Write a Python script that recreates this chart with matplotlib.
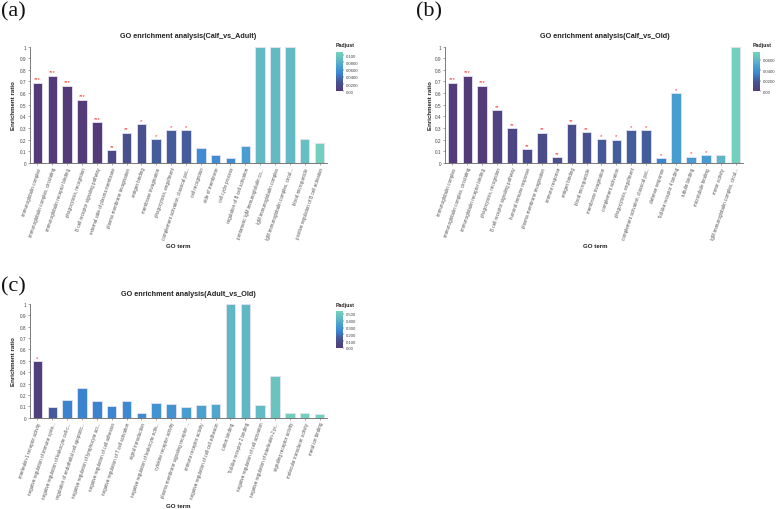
import numpy as np
import matplotlib
matplotlib.use("Agg")
import matplotlib.pyplot as plt
from matplotlib.colors import LinearSegmentedColormap, Normalize
from matplotlib.colorbar import ColorbarBase

plt.rcParams['font.family'] = ['Liberation Sans', 'DejaVu Sans']

# ---- data ----
terms_a = ["immunoglobulin complex", "immunoglobulin complex, circulating",
           "immunoglobulin receptor binding", "phagocytosis, recognition",
           "B cell receptor signaling pathway", "external side of plasma membrane",
           "plasma membrane invagination", "antigen binding", "membrane invagination",
           "phagocytosis, engulfment", "complement activation, classical pat...",
           "cell recognition", "side of membrane", "cell cycle process",
           "regulation of B cell activation", "pentameric IgM immunoglobulin co...",
           "IgM immunoglobulin complex", "IgM immunoglobulin complex, circul...",
           "blood microparticle", "positive regulation of B cell activation"]
ratio_a = [0.69, 0.75, 0.665, 0.545, 0.35, 0.11, 0.26, 0.335, 0.205, 0.28, 0.28,
           0.13, 0.07, 0.045, 0.145, 1.0, 1.0, 1.0, 0.21, 0.17]
padj_a = [0.0001, 0.0001, 0.0002, 0.0005, 0.001, 0.014, 0.02, 0.022, 0.03, 0.03, 0.03,
          0.055, 0.055, 0.055, 0.068, 0.088, 0.088, 0.088, 0.092, 0.106]
stars_a = ["***", "***", "***", "***", "***", "**", "**", "*", "*", "*", "*",
           "", "", "", "", "", "", "", "", ""]

terms_b = ["immunoglobulin complex", "immunoglobulin complex, circulating",
           "immunoglobulin receptor binding", "phagocytosis, recognition",
           "B cell receptor signaling pathway", "humoral immune response",
           "plasma membrane invagination", "immune response", "antigen binding",
           "blood microparticle", "membrane invagination", "complement activation",
           "phagocytosis, engulfment", "complement activation, classical pat...",
           "defense response", "Toll-like receptor 4 binding", "tubulin binding",
           "microtubule binding", "motor activity", "IgM immunoglobulin complex, circul..."]
ratio_b = [0.69, 0.75, 0.665, 0.455, 0.30, 0.12, 0.26, 0.05, 0.335, 0.265, 0.205,
           0.20, 0.28, 0.28, 0.045, 0.60, 0.055, 0.065, 0.07, 1.0]
padj_b = [0.0001, 0.0001, 0.0002, 0.006, 0.008, 0.012, 0.012, 0.014, 0.014, 0.016,
          0.02, 0.021, 0.021, 0.021, 0.034, 0.046, 0.045, 0.045, 0.058, 0.073]
stars_b = ["***", "***", "***", "**", "**", "**", "**", "**", "**", "**", "*", "*",
           "*", "*", "*", "*", "*", "*", "", ""]

terms_c = ["interleukin-1 receptor activity", "negative regulation of immune syste...",
           "negative regulation of leukocyte cell-c...", "regulation of endothelial cell apoptotic...",
           "negative regulation of lymphocyte act...", "negative regulation of cell adhesion",
           "negative regulation of T cell activation", "signal transduction",
           "negative regulation of leukocyte activ...", "cytokine receptor activity",
           "plasma membrane signaling receptor ...", "immune receptor activity",
           "negative regulation of cell-cell adhesion", "cation binding",
           "Toll-like receptor 2 binding", "negative regulation of cell activation",
           "negative regulation of interleukin-2 pr...", "signaling receptor activity",
           "molecular transducer activity", "metal ion binding"]
ratio_c = [0.50, 0.095, 0.155, 0.26, 0.145, 0.105, 0.15, 0.04, 0.125, 0.12, 0.09,
           0.11, 0.12, 1.0, 1.0, 0.11, 0.37, 0.045, 0.045, 0.035]
padj_c = [0.02, 0.15, 0.24, 0.24, 0.24, 0.25, 0.26, 0.27, 0.30, 0.30, 0.33, 0.35,
          0.37, 0.43, 0.43, 0.44, 0.48, 0.52, 0.53, 0.53]
stars_c = ["*"] + [""] * 19

cmap = LinearSegmentedColormap.from_list(
    "padj", [(0, "#533a79"), (0.25, "#455693"), (0.45, "#3a84d2"),
             (0.65, "#4aa2d0"), (0.8, "#62b9c4"), (1.0, "#74d4bb")])

W, H = 777, 510
fig = plt.figure(figsize=(7.77, 5.10), dpi=100)


def box(x0, y0, x1, y1):
    return [x0 / W, 1 - y1 / H, (x1 - x0) / W, (y1 - y0) / H]


def panel(rect, terms, ratio, padj, stars, vmax, cb_rect, cb_ticks, cb_labels,
          title, tx, ty, gx, gy, yx):
    ax = fig.add_axes(rect)
    norm = Normalize(0, vmax)
    x = np.arange(len(terms))
    ax.bar(x, ratio, width=0.64, color=cmap(norm(np.array(padj))),
           edgecolor="#e4e2f0", linewidth=0.6, clip_on=False)
    for xi, r, s in zip(x, ratio, stars):
        if s:
            ax.text(xi, r + 0.01, s, ha="center", va="bottom", fontsize=4.2,
                    color="#ff2a2a")
    ax.set_xlim(-0.5, len(terms) - 0.5)
    ax.set_ylim(0, 1)
    ax.set_yticks(np.arange(0, 1.01, 0.1))
    ax.set_yticklabels(["0"] + ["%.1f" % v for v in np.arange(0.1, 0.95, 0.1)] + ["1"])
    ax.set_xticks(x)
    ax.set_xticklabels(terms, rotation=71, ha="right", va="top",
                       rotation_mode="anchor", fontsize=3.25, color="#555555")
    ax.tick_params(axis="y", labelsize=3.4, length=1.5, width=0.4, pad=1,
                   labelcolor="#444444", color="#666666")
    ax.tick_params(axis="x", length=1.5, width=0.4, pad=1, color="#666666")
    for sp in ["top", "right"]:
        ax.spines[sp].set_visible(False)
    for sp in ["left", "bottom"]:
        ax.spines[sp].set_linewidth(0.6)
        ax.spines[sp].set_color("#666666")
    fig.text(tx / W, 1 - ty / H, title, ha="center", va="center",
             fontsize=5.2, fontweight="bold", color="#222222")
    fig.text(gx / W, 1 - gy / H, "GO term", ha="center", va="center",
             fontsize=4.4, fontweight="bold", color="#222222")
    fig.text(yx / W, rect[1] + rect[3] / 2, "Enrichment ratio", ha="center",
             va="center", rotation=90, fontsize=4.4, fontweight="bold",
             color="#222222")

    cax = fig.add_axes(cb_rect)
    cb = ColorbarBase(cax, cmap=cmap, norm=norm, orientation="vertical")
    cb.outline.set_visible(False)
    cb.set_ticks(cb_ticks)
    cb.set_ticklabels(cb_labels)
    cax.tick_params(labelsize=3.1, length=1, width=0.3, pad=1, labelcolor="#444444")
    cax.text(-0.1, 1.12, "Padjust", transform=cax.transAxes, ha="left",
             va="bottom", fontsize=3.8, fontweight="bold", color="#222222")
    return ax


panel(box(30, 47.5, 327, 164), terms_a, ratio_a, padj_a, stars_a, 0.109,
      box(336, 53, 343, 92.3), [0, 0.02, 0.04, 0.06, 0.08, 0.1],
      ["0.00", "0.0200", "0.0400", "0.0600", "0.0800", "0.100"],
      "GO enrichment analysis(Calf_vs_Adult)", 188, 37, 178, 247, 14)

panel(box(445, 47.5, 743, 164), terms_b, ratio_b, padj_b, stars_b, 0.075,
      box(753, 53, 760, 92.3), [0, 0.02, 0.04, 0.06],
      ["0.00", "0.0200", "0.0400", "0.0600"],
      "GO enrichment analysis(Calf_vs_Old)", 605, 37, 595, 247, 430)

panel(box(30, 305, 327, 418.7), terms_c, ratio_c, padj_c, stars_c, 0.544,
      box(336, 312, 343, 349), [0, 0.1, 0.2, 0.3, 0.4, 0.5],
      ["0.00", "0.100", "0.200", "0.300", "0.400", "0.500"],
      "GO enrichment analysis(Adult_vs_Old)", 188, 295, 178, 507, 14)

for lab, lx, ly in [("(a)", 1, 12), ("(b)", 416, 12), ("(c)", 1, 287)]:
    fig.text(lx / W, 1 - ly / H, lab, ha="left", va="center", fontsize=16,
             family="Liberation Serif", color="#111111")

fig.savefig("out.png", dpi=100)
